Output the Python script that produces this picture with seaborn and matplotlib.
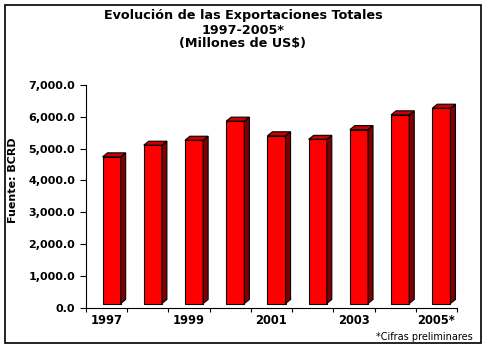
import matplotlib
matplotlib.use('Agg')
import matplotlib.pyplot as plt
import seaborn as sns
from matplotlib.patches import Polygon, Rectangle
from matplotlib.ticker import FuncFormatter

# =========================
# DATA
# =========================
years = ['1997', '1998', '1999', '2000', '2001', '2002', '2003', '2004', '2005*']
exports = [4613.7, 4980.5, 5136.7, 5736.7, 5276.3, 5165.0, 5470.8, 5935.9, 6144.7]
title_lines = ['Evolución de las Exportaciones Totales', '1997-2005*', '(Millones de US$)']

# =========================
# STYLE
# =========================
sns.set_style('ticks')
plt.rcParams['font.family'] = ['DejaVu Sans']
for key in ['text.color', 'axes.labelcolor', 'xtick.color', 'ytick.color']:
    plt.rcParams[key] = 'black'

W, H = 489, 351
fig = plt.figure(figsize=(W / 100, H / 100), dpi=100)
ax = fig.add_axes([86 / W, 1 - 307.5 / H, (457 - 86) / W, (307.5 - 85) / H])

sns.barplot(x=years, y=exports, color='#ff0000', saturation=1, width=0.44,
            edgecolor='black', linewidth=0.8, ax=ax, zorder=3)
ax.set_xlim(-0.5, len(years) - 0.5)
ax.set_ylim(0, 7000)

# pixel -> data conversion for the fake 3D depth
px_x = (len(years)) / (457 - 86)
px_y = 7000 / (307.5 - 85)
shift_x, shift_y = 5 * px_x, 4 * px_y   # front face offset
depth_x, depth_y = 5 * px_x, 4 * px_y   # bar depth

for p in list(ax.patches):
    x0 = p.get_x() + shift_x
    w = p.get_width()
    top = shift_y + p.get_height()
    p.set_x(x0)
    p.set_y(shift_y)
    x1 = x0 + w
    side = Polygon([(x1, shift_y), (x1 + depth_x, shift_y + depth_y),
                    (x1 + depth_x, top + depth_y), (x1, top)],
                   closed=True, facecolor='#800000', edgecolor='black',
                   linewidth=0.8, zorder=3)
    cap = Polygon([(x0, top), (x0 + depth_x, top + depth_y),
                   (x1 + depth_x, top + depth_y), (x1, top)],
                  closed=True, facecolor='#cc0000', edgecolor='black',
                  linewidth=0.8, zorder=3)
    ax.add_patch(side)
    ax.add_patch(cap)

# =========================
# AXES FORMATTING
# =========================
sns.despine(ax=ax)
for s in ['left', 'bottom']:
    ax.spines[s].set_linewidth(0.8)
    ax.spines[s].set_color('black')

ax.set_yticks(range(0, 7001, 1000))
ax.yaxis.set_major_formatter(FuncFormatter(lambda v, _: f'{v:,.1f}'))
ax.tick_params(axis='y', length=4.3, width=0.8, pad=3.6, labelsize=8)
for t in ax.get_yticklabels():
    t.set_fontweight('bold')

# category boundaries as major ticks, every other year labelled
ax.set_xticks([i - 0.5 for i in range(len(years) + 1)])
ax.set_xticklabels([])
ax.tick_params(axis='x', which='major', length=3, width=0.8)
label_pos = list(range(0, len(years), 2))
ax.set_xticks(label_pos, minor=True)
ax.set_xticklabels(years[::2], minor=True, fontweight='bold', fontsize=8.3)
ax.tick_params(axis='x', which='minor', length=0, pad=5)
ax.set_xlabel('')
ax.set_ylabel('')

# =========================
# TEXTS
# =========================
for i, line in enumerate(title_lines):
    fig.text(243 / W, 1 - (16 + 14 * i) / H, line, ha='center', va='center',
             fontsize=9.2, fontweight='bold')

fig.text(13 / W, 1 - 180 / H, 'Fuente: BCRD', rotation=90, ha='center',
         va='center', fontsize=8, fontweight='bold')
fig.text(473 / W, 1 - 337 / H, '*Cifras preliminares', ha='right',
         va='center', fontsize=7)

fig.patches.append(Rectangle((5 / W, 1 - 343 / H), 476 / W, 338 / H,
                             transform=fig.transFigure, fill=False,
                             edgecolor='black', linewidth=1.2))

fig.savefig('out.png', dpi=100)
